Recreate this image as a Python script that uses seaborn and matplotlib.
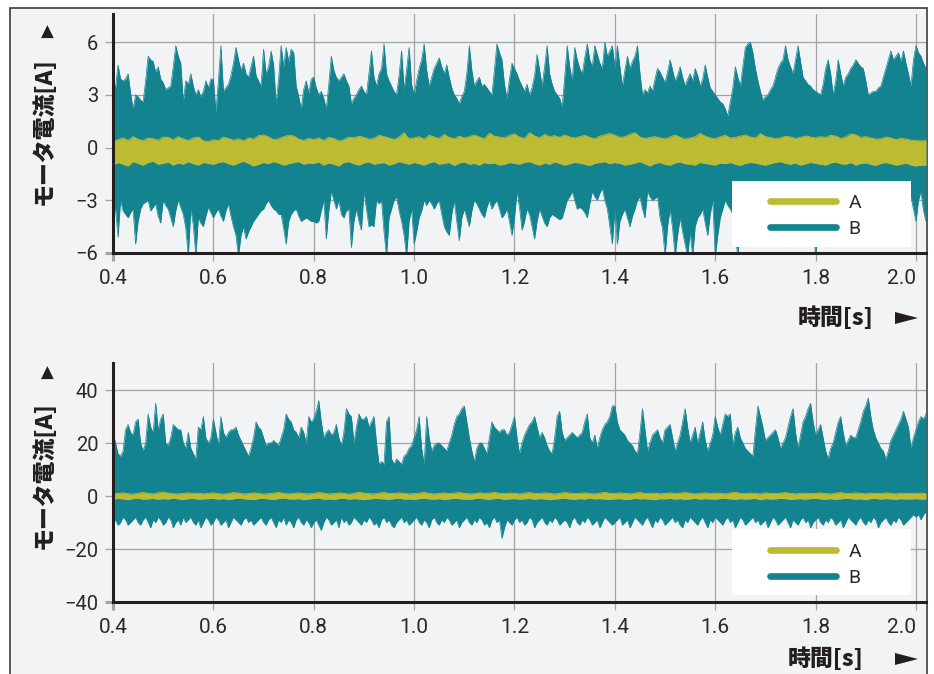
import numpy as np
import seaborn as sns
import matplotlib
matplotlib.use("Agg")
import matplotlib.pyplot as plt
from matplotlib.lines import Line2D
from matplotlib.patches import Rectangle, Polygon

# ---- data (envelopes) ----
t_start = 0.4
step_b = 0.005   # B envelope sample spacing [s]
step_a = 0.01    # A envelope sample spacing [s]

# top panel, B upper / lower envelope [A]
top_b_hi = [
    3.7, 3.4, 4.7, 3.9, 3.8, 3.9, 4.2, 3.1, 2.2, 3.0, 2.9, 2.7, 2.6, 3.8, 5.2, 5.0, 4.9, 4.3, 4.6, 3.9,
    3.7, 3.3, 3.4, 3.5, 4.6, 5.8, 5.2, 4.8, 2.6, 3.8, 3.6, 4.2, 3.5, 3.0, 3.3, 2.9, 3.2, 3.8, 3.4, 3.9,
    3.9, 2.0, 3.8, 5.8, 3.2, 3.4, 3.6, 4.1, 4.8, 5.7, 5.0, 4.4, 4.8, 4.2, 4.0, 4.6, 5.2, 4.1, 3.8, 3.5,
    5.6, 4.2, 4.6, 5.5, 4.7, 2.5, 3.9, 5.8, 4.6, 5.7, 4.9, 5.6, 5.4, 3.5, 2.9, 2.2, 3.3, 3.8, 3.1, 3.9,
    4.0, 3.4, 3.0, 3.2, 2.8, 2.2, 3.6, 5.2, 4.4, 4.0, 3.8, 4.0, 4.2, 3.8, 3.5, 2.5, 2.8, 3.0, 3.3, 3.5,
    3.2, 3.0, 4.2, 5.5, 4.0, 3.5, 4.2, 4.5, 5.9, 4.2, 3.8, 3.5, 3.2, 3.0, 4.1, 5.5, 3.3, 4.4, 5.7, 3.6,
    3.0, 3.8, 4.5, 5.0, 5.9, 4.4, 3.5, 4.0, 4.5, 4.8, 5.1, 4.6, 4.2, 4.7, 4.0, 3.4, 3.0, 2.8, 2.5, 2.9,
    3.2, 4.2, 5.8, 4.4, 3.5, 3.8, 4.0, 3.5, 3.6, 3.4, 3.2, 3.0, 4.4, 5.9, 5.4, 5.0, 3.6, 2.8, 3.9, 4.8,
    4.5, 4.2, 3.8, 3.5, 3.2, 3.6, 3.0, 3.4, 4.1, 5.3, 4.4, 3.5, 4.6, 5.8, 4.2, 3.6, 3.2, 3.0, 2.8, 2.3,
    4.0, 5.8, 4.6, 3.8, 5.7, 5.0, 4.5, 4.2, 5.1, 5.9, 5.0, 4.6, 5.8, 5.3, 4.8, 4.5, 6.0, 5.2, 5.5, 5.8,
    4.5, 5.8, 4.6, 3.5, 4.4, 5.2, 4.5, 4.9, 5.2, 5.8, 4.2, 3.0, 3.3, 3.1, 3.5, 3.2, 3.9, 4.5, 4.3, 4.0,
    3.7, 4.3, 5.0, 4.4, 3.8, 4.1, 4.6, 4.0, 3.5, 3.9, 4.2, 3.8, 4.5, 4.1, 3.5, 3.9, 4.7, 4.0, 3.4, 3.2,
    3.0, 2.8, 2.6, 2.5, 2.2, 1.8, 2.6, 3.4, 4.6, 4.0, 3.5, 4.6, 5.7, 5.9, 6.0, 5.4, 4.5, 3.8, 3.2, 2.7,
    2.9, 3.0, 3.3, 3.5, 4.0, 4.5, 4.8, 5.0, 5.8, 5.0, 4.6, 4.2, 5.0, 5.8, 4.9, 4.0, 3.8, 3.6, 3.5, 3.3,
    3.2, 3.1, 3.0, 3.6, 4.5, 5.0, 4.2, 3.0, 3.8, 5.0, 4.2, 3.5, 4.0, 4.2, 4.5, 4.7, 5.0, 4.8, 4.6, 4.5,
    3.8, 3.0, 3.1, 3.2, 3.2, 3.4, 3.5, 4.0, 4.5, 5.0, 5.5, 5.0, 5.2, 5.4, 4.9, 5.5, 4.8, 4.2, 3.5, 5.0,
    5.8, 5.4, 5.2, 4.8, 4.5,
]
top_b_lo = [
    -3.4, -3.5, -5.1, -3.0, -3.6, -3.8, -4.0, -3.7, -3.5, -5.5, -4.2, -3.5, -3.2, -3.1, -3.0, -3.6, -3.4, -3.2, -3.9, -4.3,
    -3.0, -3.3, -3.5, -4.0, -4.5, -3.6, -3.0, -3.4, -3.8, -4.6, -6.2, -3.5, -4.4, -6.2, -4.0, -4.3, -4.5, -3.9, -3.4, -3.7,
    -4.0, -3.7, -3.5, -3.9, -4.2, -3.6, -3.2, -3.9, -4.5, -5.0, -6.2, -5.0, -4.5, -5.2, -4.8, -4.5, -4.2, -4.0, -3.8, -3.6,
    -3.5, -3.2, -3.0, -3.3, -3.5, -3.6, -3.8, -3.8, -4.6, -5.5, -4.2, -3.8, -3.6, -3.5, -3.9, -4.2, -4.1, -4.0, -4.1, -4.2,
    -4.2, -4.3, -4.2, -3.6, -3.0, -5.2, -3.6, -2.5, -3.0, -3.5, -3.0, -3.8, -4.0, -3.6, -3.5, -5.7, -4.2, -3.5, -4.2, -4.7,
    -2.5, -3.5, -4.5, -4.4, -4.5, -3.0, -3.2, -3.0, -4.8, -6.2, -4.0, -3.5, -3.0, -2.8, -3.6, -4.2, -5.0, -6.2, -4.2, -3.5,
    -5.5, -4.8, -4.0, -3.6, -3.0, -3.3, -3.0, -3.2, -3.5, -3.2, -3.0, -3.8, -4.5, -4.8, -5.0, -3.8, -3.0, -4.2, -5.3, -4.0,
    -3.5, -4.0, -4.5, -3.6, -3.0, -3.2, -3.5, -3.8, -4.0, -3.4, -3.0, -3.5, -3.2, -3.0, -3.5, -4.0, -3.8, -3.5, -4.2, -5.0,
    -4.0, -2.5, -3.4, -4.7, -4.2, -3.5, -3.8, -4.5, -5.2, -4.2, -3.5, -3.9, -4.3, -4.5, -4.0, -3.8, -3.9, -4.0, -4.1, -4.0,
    -3.5, -3.0, -2.8, -2.5, -3.0, -3.5, -3.4, -3.5, -3.7, -4.0, -3.2, -2.5, -2.8, -3.0, -2.6, -2.3, -3.0, -3.5, -4.5, -5.5,
    -3.5, -5.5, -4.2, -3.8, -3.5, -4.0, -4.5, -3.9, -3.5, -3.0, -2.8, -3.5, -4.0, -2.5, -2.8, -3.0, -2.9, -2.8, -4.0, -4.6,
    -6.2, -4.5, -3.5, -4.6, -6.2, -5.0, -4.0, -4.8, -5.5, -6.2, -4.8, -6.2, -4.5, -4.0, -3.8, -3.5, -4.3, -5.0, -3.8, -3.0,
    -6.2, -5.0, -4.0, -3.5, -3.0, -3.3, -3.5, -3.8, -5.0, -6.2, -4.5, -4.0, -3.6, -4.2, -5.0, -4.4, -3.5, -4.0, -4.6, -3.8,
    -3.5, -4.2, -5.2, -4.0, -3.6, -3.2, -4.5, -5.5, -4.2, -3.8, -3.4, -4.0, -4.8, -3.9, -3.5, -4.4, -5.0, -4.0, -3.7, -4.3,
    -6.2, -4.5, -3.6, -3.9, -4.4, -3.5, -3.2, -4.0, -4.8, -4.1, -3.6, -3.3, -4.2, -5.0, -4.3, -3.8, -3.5, -4.0, -4.6, -3.9,
    -3.6, -4.2, -3.4, -3.1, -3.8, -4.5, -4.0, -3.5, -3.3, -4.1, -4.8, -4.0, -3.6, -3.2, -3.9, -4.4, -3.7, -3.3, -2.8, -3.5,
    -4.2, -3.0, -2.5, -3.6, -4.2,
]
# top panel, A upper / lower envelope [A]
top_a_hi = [
    0.35, 0.45, 0.55, 0.40, 0.62, 0.48, 0.40, 0.55, 0.50, 0.42, 0.60, 0.58, 0.45, 0.62, 0.50, 0.40, 0.55, 0.60, 0.38, 0.35,
    0.45, 0.40, 0.60, 0.52, 0.42, 0.50, 0.38, 0.55, 0.48, 0.68, 0.72, 0.60, 0.45, 0.50, 0.62, 0.70, 0.66, 0.48, 0.40, 0.52,
    0.45, 0.55, 0.40, 0.58, 0.52, 0.38, 0.45, 0.60, 0.55, 0.65, 0.58, 0.48, 0.52, 0.70, 0.62, 0.55, 0.45, 0.60, 0.85, 0.50,
    0.55, 0.62, 0.48, 0.70, 0.60, 0.52, 0.75, 0.58, 0.50, 0.65, 0.55, 0.62, 0.72, 0.60, 0.50, 0.82, 0.65, 0.60, 0.55, 0.70,
    0.78, 0.60, 0.52, 0.85, 0.66, 0.55, 0.75, 0.62, 0.68, 0.58, 0.72, 0.60, 0.55, 0.62, 0.70, 0.58, 0.50, 0.65, 0.72, 0.80,
    0.70, 0.58, 0.62, 0.75, 0.85, 0.60, 0.52, 0.58, 0.62, 0.55, 0.50, 0.60, 0.72, 0.58, 0.48, 0.55, 0.62, 0.80, 0.65, 0.55,
    0.50, 0.62, 0.70, 0.55, 0.58, 0.65, 0.72, 0.60, 0.55, 0.80, 0.62, 0.58, 0.50, 0.55, 0.65, 0.60, 0.52, 0.58, 0.66, 0.60,
    0.55, 0.62, 0.58, 0.70, 0.65, 0.52, 0.60, 0.78, 0.72, 0.58, 0.62, 0.55, 0.48, 0.50, 0.60, 0.55, 0.45, 0.52, 0.48, 0.42,
    0.40, 0.38, 0.40,
]
top_a_lo = [
    -1.00, -0.85, -0.95, -1.05, -0.80, -0.90, -1.00, -0.85, -0.78, -0.95, -0.90, -0.82, -1.00, -0.88, -0.95, -0.80, -0.92, -1.00, -0.85, -0.90,
    -0.95, -0.85, -0.80, -0.92, -1.00, -0.88, -0.78, -0.90, -1.05, -0.95, -0.85, -0.92, -0.80, -0.88, -1.00, -0.92, -0.85, -0.80, -0.95, -0.88,
    -0.90, -0.82, -1.00, -0.88, -0.95, -1.05, -0.85, -0.80, -0.92, -1.00, -0.88, -0.82, -0.95, -0.90, -0.85, -1.00, -0.92, -0.80, -0.88, -0.95,
    -0.85, -0.92, -1.00, -0.88, -0.80, -0.95, -0.90, -0.85, -1.02, -0.88, -0.82, -0.95, -0.90, -1.00, -0.85, -0.92, -0.88, -1.00, -0.95, -0.85,
    -0.90, -0.95, -0.85, -0.80, -0.92, -1.00, -0.88, -0.95, -0.82, -0.90, -1.00, -0.92, -0.85, -0.88, -0.95, -1.02, -0.90, -0.85, -0.80, -0.92,
    -0.85, -0.90, -1.00, -0.95, -0.88, -0.80, -0.92, -1.05, -0.90, -0.85, -0.95, -1.00, -0.88, -0.82, -0.92, -0.95, -1.00, -0.85, -0.90, -0.95,
    -1.00, -0.88, -0.92, -0.85, -0.95, -1.02, -0.90, -0.85, -0.88, -0.95, -1.00, -0.92, -0.85, -0.80, -0.90, -0.95, -0.88, -1.00, -0.92, -0.85,
    -0.90, -0.95, -1.00, -0.88, -0.82, -0.92, -0.95, -0.85, -1.00, -0.90, -0.88, -0.95, -1.02, -0.90, -0.85, -0.92, -1.00, -0.95, -0.88, -1.00,
    -1.05, -1.00, -1.00,
]

# bottom panel, B upper / lower envelope [A]
bot_b_hi = [
    24, 20, 16, 15, 17, 25, 27, 24, 23, 28, 29, 20, 17, 20, 31, 26, 24, 35, 25, 29,
    31, 20, 19, 22, 27, 26, 25, 25, 20, 18, 24, 18, 16, 14, 26, 25, 30, 22, 20, 22,
    29, 24, 19, 30, 24, 22, 24, 25, 25, 26, 23, 21, 19, 17, 15, 18, 22, 28, 26, 25,
    22, 19, 20, 20, 21, 20, 19, 22, 25, 31, 29, 28, 25, 24, 22, 26, 24, 20, 30, 28,
    29, 32, 36, 28, 22, 24, 25, 23, 24, 27, 22, 19, 24, 33, 31, 30, 20, 26, 31, 29,
    29, 30, 26, 28, 30, 20, 12, 13, 12, 28, 30, 14, 12, 14, 13, 12, 15, 16, 18, 19,
    22, 25, 30, 18, 12, 30, 22, 17, 19, 20, 20, 19, 18, 17, 20, 23, 27, 30, 31, 33,
    34, 28, 22, 17, 13, 18, 20, 20, 18, 16, 22, 28, 26, 25, 24, 25, 25, 23, 24, 27,
    30, 22, 16, 20, 23, 25, 27, 28, 30, 26, 22, 24, 22, 19, 17, 16, 22, 30, 32, 24,
    21, 22, 23, 24, 23, 22, 23, 24, 28, 31, 22, 20, 23, 18, 22, 25, 27, 28, 30, 34,
    34, 28, 25, 24, 23, 21, 20, 19, 17, 16, 24, 33, 25, 17, 20, 23, 24, 25, 22, 20,
    25, 26, 27, 22, 17, 20, 23, 28, 33, 26, 20, 23, 26, 20, 24, 28, 21, 17, 20, 23,
    30, 26, 23, 27, 31, 30, 31, 19, 24, 26, 22, 20, 18, 17, 16, 15, 25, 34, 30, 26,
    21, 22, 23, 24, 25, 22, 18, 20, 22, 26, 30, 33, 24, 18, 23, 28, 30, 33, 35, 28,
    23, 25, 27, 22, 17, 14, 18, 20, 24, 28, 30, 24, 19, 21, 23, 22, 22, 25, 28, 32,
    34, 37, 30, 25, 22, 20, 18, 17, 14, 17, 21, 23, 25, 27, 29, 32, 29, 26, 18, 22,
    25, 28, 30, 29, 31,
]
bot_b_lo = [
    -10, -9, -11, -10, -8, -9, -11, -10, -9, -8, -10, -11, -9, -8, -10, -12, -9, -10, -8, -9,
    -11, -10, -8, -9, -12, -10, -9, -11, -8, -10, -9, -8, -10, -11, -9, -12, -10, -8, -9, -11,
    -10, -8, -9, -11, -10, -9, -12, -10, -8, -9, -10, -11, -9, -8, -10, -9, -11, -10, -9, -8,
    -10, -11, -9, -8, -10, -12, -9, -10, -8, -11, -9, -10, -12, -9, -8, -10, -11, -9, -10, -12,
    -10, -9, -11, -13, -10, -8, -9, -11, -10, -9, -12, -8, -10, -9, -11, -10, -8, -9, -10, -11,
    -9, -10, -8, -9, -11, -10, -12, -9, -8, -10, -9, -11, -12, -10, -9, -8, -10, -9, -11, -10,
    -9, -8, -10, -11, -9, -10, -12, -9, -8, -10, -11, -9, -10, -8, -9, -11, -10, -9, -12, -10,
    -9, -8, -10, -11, -9, -10, -8, -9, -11, -10, -12, -9, -8, -10, -9, -16, -12, -9, -10, -11,
    -9, -8, -10, -9, -11, -10, -8, -9, -12, -10, -9, -8, -10, -11, -9, -10, -8, -9, -11, -10,
    -9, -10, -12, -9, -8, -10, -11, -9, -10, -8, -9, -11, -10, -9, -12, -10, -8, -9, -10, -11,
    -10, -9, -8, -11, -10, -9, -12, -10, -8, -9, -10, -11, -9, -8, -10, -12, -9, -10, -8, -9,
    -11, -10, -9, -8, -10, -9, -11, -12, -9, -10, -8, -9, -10, -11, -9, -8, -10, -12, -9, -10,
    -8, -9, -10, -11, -9, -8, -10, -9, -12, -10, -8, -9, -11, -10, -9, -8, -10, -9, -11, -10,
    -9, -12, -10, -8, -9, -11, -10, -9, -8, -10, -12, -9, -10, -11, -9, -8, -10, -9, -12, -10,
    -9, -8, -10, -11, -9, -10, -8, -9, -11, -10, -9, -12, -10, -8, -9, -10, -11, -9, -8, -10,
    -11, -9, -10, -8, -9, -12, -10, -9, -8, -10, -11, -9, -10, -8, -9, -11, -10, -9, -8, -7,
    -8, -7, -9, -7, -6,
]
# bottom panel, A upper / lower envelope [A]
bot_a_hi = [
    0.8, 1.0, 1.2, 0.9, 0.7, 1.1, 1.3, 1.0, 0.8, 1.2, 1.5, 1.1, 0.9, 0.8, 1.0, 1.2, 0.9, 1.1, 0.8, 1.0,
    1.2, 0.9, 0.7, 1.0, 1.3, 1.1, 0.8, 0.9, 1.2, 1.0, 0.7, 0.9, 1.1, 1.4, 1.0, 0.8, 1.0, 1.2, 0.9, 0.8,
    1.0, 1.3, 1.1, 0.8, 0.9, 1.2, 1.0, 0.7, 1.0, 1.4, 1.1, 0.9, 0.8, 1.1, 1.3, 1.0, 0.9, 1.2, 1.0, 0.8,
    0.9, 1.1, 1.4, 1.0, 0.8, 1.0, 1.2, 0.9, 1.1, 1.3, 1.0, 0.8, 0.9, 1.2, 1.0, 1.1, 1.4, 1.0, 0.9, 1.1,
    1.0, 0.8, 1.1, 1.3, 1.0, 0.9, 1.2, 1.0, 0.8, 1.0, 1.3, 1.1, 0.9, 1.0, 1.2, 0.9, 0.8, 1.1, 1.4, 1.0,
    0.9, 1.2, 1.0, 0.8, 1.1, 1.3, 1.0, 0.9, 1.1, 0.8, 1.0, 1.2, 0.9, 1.1, 1.3, 1.0, 0.8, 1.0, 1.2, 0.9,
    1.1, 1.0, 0.8, 1.2, 1.4, 1.0, 0.9, 1.1, 1.0, 0.8, 1.2, 1.0, 0.9, 1.1, 1.3, 1.0, 0.8, 1.0, 1.1, 0.9,
    1.0, 1.2, 0.9, 0.8, 1.1, 1.3, 1.0, 0.9, 1.2, 1.0, 0.8, 1.1, 1.0, 0.9, 1.2, 1.0, 0.8, 1.1, 1.0, 0.9,
    1.0, 1.1, 0.9,
]
bot_a_lo = [
    -1.2, -0.9, -1.1, -1.4, -1.0, -0.8, -1.2, -1.1, -0.9, -1.3, -1.0, -1.2, -0.8, -1.1, -1.4, -1.0, -0.9, -1.2, -1.1, -1.0,
    -0.9, -1.2, -1.0, -1.3, -1.1, -0.8, -1.0, -1.2, -1.4, -1.0, -0.9, -1.1, -1.3, -1.0, -0.8, -1.1, -1.2, -1.0, -1.4, -1.1,
    -1.0, -0.8, -1.2, -1.1, -1.3, -1.0, -0.9, -1.2, -1.0, -1.1, -1.4, -1.2, -0.9, -1.0, -1.1, -1.3, -1.0, -0.8, -1.2, -1.1,
    -1.3, -1.0, -0.9, -1.1, -1.2, -1.0, -1.4, -1.1, -0.9, -1.0, -1.2, -1.3, -1.0, -0.8, -1.1, -1.2, -1.0, -0.9, -1.3, -1.1,
    -1.0, -1.2, -1.1, -0.9, -1.3, -1.0, -1.1, -1.4, -1.2, -1.0, -0.9, -1.1, -1.3, -1.0, -1.2, -0.8, -1.1, -1.0, -1.2, -1.3,
    -1.1, -1.0, -1.3, -1.2, -0.9, -1.1, -1.0, -1.2, -1.4, -1.0, -1.1, -0.9, -1.2, -1.0, -1.3, -1.1, -0.9, -1.2, -1.0, -1.1,
    -1.2, -1.0, -0.9, -1.1, -1.3, -1.0, -1.2, -1.1, -0.9, -1.4, -1.0, -1.2, -1.1, -0.9, -1.0, -1.3, -1.1, -1.0, -1.2, -1.0,
    -0.9, -1.1, -1.2, -1.0, -1.3, -1.1, -0.9, -1.0, -1.2, -1.1, -1.4, -1.0, -0.9, -1.2, -1.0, -1.1, -1.3, -1.0, -1.2, -1.1,
    -1.0, -1.2, -1.1,
]

series_labels = ["A", "B"]
x_ticks = [0.4, 0.6, 0.8, 1.0, 1.2, 1.4, 1.6, 1.8, 2.0]
top_y_ticks = [-6, -3, 0, 3, 6]
bot_y_ticks = [-40, -20, 0, 20, 40]
y_label = "モータ電流[A]"
x_label = "時間[s]"

# ---- style ----
col_a = "#bdbb33"
col_b = "#13838f"
bg = "#f2f3f5"
ink = "#231f20"
txt = "#2a2a2a"
grid_col = "#a3a3a3"
W, H = 934, 674

sns.set_theme(style="whitegrid")
plt.rcParams["font.family"] = ["Roboto", "Noto Sans CJK JP", "DejaVu Sans"]
plt.rcParams["axes.unicode_minus"] = True

fig = plt.figure(figsize=(W / 100, H / 100), dpi=100, facecolor="white")
# outer frame of the figure (behind the axes)
fig.patches.append(Rectangle((10 / W, -0.01), 917 / W, 0.01 + 666 / H,
                             transform=fig.transFigure, facecolor=bg,
                             edgecolor="#3c3c3c", lw=1.2, zorder=-5))

ax_top = fig.add_axes([113 / W, 1 - 253 / H, 813 / W, 239 / H])
ax_bot = fig.add_axes([113 / W, 1 - 602 / H, 813 / W, 239 / H])

num_font = ["Roboto", "DejaVu Sans"]


def draw_panel(ax, b_hi, b_lo, a_hi, a_lo, yticks, ylim, box_y0, legend_y):
    t_b = t_start + step_b * np.arange(len(b_hi))
    t_a = t_start + step_a * np.arange(len(a_hi))

    ax.fill_between(t_b, b_lo, b_hi, color=col_b, lw=0, zorder=2)
    sns.lineplot(x=t_b, y=b_hi, ax=ax, color=col_b, lw=0.5, zorder=2)
    sns.lineplot(x=t_b, y=b_lo, ax=ax, color=col_b, lw=0.5, zorder=2)
    ax.fill_between(t_a, a_lo, a_hi, color=col_a, lw=0, zorder=3)
    sns.lineplot(x=t_a, y=a_hi, ax=ax, color=col_a, lw=0.6, zorder=3)
    sns.lineplot(x=t_a, y=a_lo, ax=ax, color=col_a, lw=0.6, zorder=3)

    ax.set_facecolor("none")
    ax.set_xlim(0.4, 2.02)
    ax.set_ylim(*ylim)
    ax.set_xticks(x_ticks)
    ax.set_xticklabels([f"{v:.1f}" for v in x_ticks], family=num_font, size=15)
    ax.get_xticklabels()[-1].set_horizontalalignment("right")
    ax.set_yticks(yticks)
    ax.set_yticklabels([f"{v}".replace("-", "\u2212") for v in yticks], family=num_font, size=14.5)
    ax.set_xlabel("")
    ax.set_ylabel("")

    ax.grid(True, color=grid_col, lw=0.9)
    ax.set_axisbelow(True)
    for s in ["top", "right"]:
        ax.spines[s].set_visible(False)
    for s in ["left", "bottom"]:
        ax.spines[s].set_color(ink)
        ax.spines[s].set_linewidth(2.2)
        ax.spines[s].set_zorder(6)
    ax.tick_params(axis="both", direction="out", length=6, width=0.9,
                   color=grid_col, labelcolor=txt)
    ax.tick_params(axis="x", pad=5.5, bottom=True)
    ax.tick_params(axis="y", pad=4.5, left=True)
    # first ticks continue the dark spines
    xt0 = ax.xaxis.get_major_ticks()[0].tick1line
    xt0.set_color(ink)
    xt0.set_markeredgewidth(2.2)
    yt0 = ax.yaxis.get_major_ticks()[0].tick1line
    yt0.set_color(ink)
    yt0.set_markeredgewidth(2.2)

    # legend on a white box
    ax.add_patch(Rectangle((0.761, box_y0), 0.221, 0.276,
                           transform=ax.transAxes, facecolor="white",
                           edgecolor="none", zorder=7))
    handles = [Line2D([], [], color=col_a, lw=4.8, solid_capstyle="round", label=series_labels[0]),
               Line2D([], [], color=col_b, lw=4.8, solid_capstyle="round", label=series_labels[1])]
    leg = ax.legend(handles=handles, loc="center left", bbox_to_anchor=(0.8085, legend_y),
                    frameon=False, handlelength=3.4, handletextpad=0.62,
                    labelspacing=0.42, borderpad=0, borderaxespad=0,
                    prop={"family": num_font, "size": 14})
    for tx in leg.get_texts():
        tx.set_color(txt)
    leg.set_zorder(8)


draw_panel(ax_top, top_b_hi, top_b_lo, top_a_hi, top_a_lo, top_y_ticks, (-6, 7.6), 0.0251, 0.156)
draw_panel(ax_bot, bot_b_hi, bot_b_lo, bot_a_hi, bot_a_lo, bot_y_ticks, (-40, 50.2), 0.0293, 0.156)

# axis labels with arrow markers
lab_font = ["Noto Sans CJK JP", "DejaVu Sans"]
for y_arrow, y_lab in [(31.5, 131), (373, 475)]:
    fig.text(47 / W, 1 - y_arrow / H, "▲", ha="center", va="center",
             fontsize=12, color=ink, family="DejaVu Sans")
    fig.text(44 / W, 1 - y_lab / H, y_label, ha="center", va="center",
             rotation=90, fontsize=16.5, fontweight="heavy", color=ink, family=lab_font)
for x_lab, y_lab in [(836, 318), (826, 659)]:
    fig.text(x_lab / W, 1 - y_lab / H, x_label, ha="center", va="center",
             fontsize=16.5, fontweight="heavy", color=ink, family=lab_font)
    # right-pointing arrow after the time label
    pts = [(895, y_lab - 6), (895, y_lab + 6), (918, y_lab)]
    fig.patches.append(Polygon([(x / W, 1 - y / H) for x, y in pts], closed=True,
                               transform=fig.transFigure, facecolor=ink,
                               edgecolor="none", zorder=5))

fig.savefig("out.png", dpi=100, facecolor=fig.get_facecolor())
